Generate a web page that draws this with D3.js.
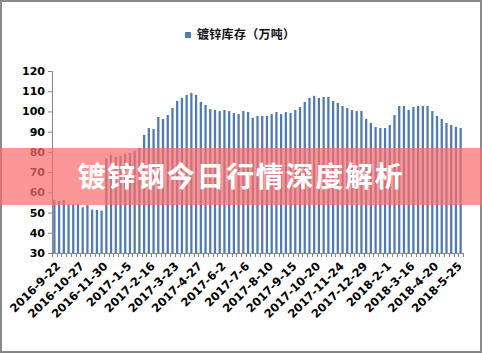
<!DOCTYPE html>
<html>
<head>
<meta charset="utf-8">
<script src="https://cdn.jsdelivr.net/npm/d3@7"></script>
<style>
  body { margin: 0; background: #fff; }
  svg { display: block; }
</style>
</head>
<body>
<div id="chart"></div>
<script>
// 镀锌库存 weekly values (万吨)
var stock = [
  56.2, 55.7, 56.2, 54.0, 54.0, 54.0, 52.6, 53.7, 51.5, 51.3, 51.0,
  76.8, 78.5, 77.5, 78.0, 79.0, 79.6, 80.6, 82.0,
  88.4, 91.8, 91.3, 97.3, 96.3, 98.2, 101.7, 105.2, 106.7, 108.2, 109.2,
  108.2, 104.7, 103.2, 101.2, 100.7, 100.2, 100.7, 100.2, 99.2, 98.7,
  100.2, 99.7, 96.8, 97.8, 97.8, 97.8, 98.7, 99.7, 98.7, 99.7, 99.2,
  100.7, 102.2, 104.7, 106.7, 107.7, 106.7, 107.2, 107.2, 105.2, 104.2,
  102.7, 101.7, 100.7, 100.2, 100.2, 96.3, 94.3, 92.3, 91.8, 91.8, 93.3,
  98.2, 102.7, 102.7, 100.7, 102.2, 102.7, 102.7, 102.7, 100.2, 97.8,
  96.3, 94.3, 93.3, 92.3, 91.8
];
// a date label on every 5th week
var tickLabels = [
  "2016-9-22", "2016-10-27", "2016-11-30", "2017-1-5", "2017-2-16",
  "2017-3-23", "2017-4-27", "2017-6-2", "2017-7-6", "2017-8-10",
  "2017-9-15", "2017-10-20", "2017-11-24", "2017-12-29", "2018-2-1",
  "2018-3-16", "2018-4-20", "2018-5-25"
];
var tickEvery = 5;
var yTicks = [30, 40, 50, 60, 70, 80, 90, 100, 110, 120];
var legendName = "镀锌库存（万吨）";
var bannerText = "镀锌钢今日行情深度解析";

var W = 482, H = 354;
var margin = {top: 71, right: 19, bottom: 101, left: 52};
var width = W - margin.left - margin.right,
    height = H - margin.top - margin.bottom;

var svg = d3.select("#chart").append("svg")
    .attr("width", W).attr("height", H);

// outer frame
svg.append("rect")
    .attr("x", 1).attr("y", 1).attr("width", W - 2).attr("height", H - 3)
    .attr("fill", "#fff").attr("stroke", "#8a8a8a").attr("stroke-width", 2);

var g = svg.append("g")
    .attr("transform", `translate(${margin.left}, ${margin.top})`);

var x = d3.scaleBand()
    .domain(d3.range(stock.length))
    .range([0, width])
    .paddingInner(0.52).paddingOuter(0.26);

var y = d3.scaleLinear().domain([30, 120]).range([height, 0]);

// bars
g.append("g").selectAll("rect")
    .data(stock)
    .enter().append("rect")
    .attr("x", (d, i) => x(i))
    .attr("width", x.bandwidth())
    .attr("y", d => y(d))
    .attr("height", d => height - y(d))
    .attr("fill", "#4f7cae");

// y axis
var yAxis = d3.axisLeft(y).tickValues(yTicks).tickSize(4).tickPadding(3);
var gy = g.append("g").call(yAxis);
gy.select(".domain").attr("stroke", "#868686");
gy.selectAll(".tick line").attr("stroke", "#868686");
gy.selectAll("text")
    .attr("fill", "#000")
    .style("font-family", "'DejaVu Sans', sans-serif")
    .style("font-weight", "bold")
    .style("font-size", "11px");

// x axis: tick marks on every category boundary
var step = x.step();
g.append("line")
    .attr("x1", 0).attr("x2", width)
    .attr("y1", height + 0.5).attr("y2", height + 0.5)
    .attr("stroke", "#868686");
g.append("g").selectAll("line")
    .data(d3.range(stock.length + 1))
    .enter().append("line")
    .attr("x1", k => Math.round(k * step) + 0.5)
    .attr("x2", k => Math.round(k * step) + 0.5)
    .attr("y1", height).attr("y2", height + 4)
    .attr("stroke", "#868686");

g.append("g").selectAll("text")
    .data(tickLabels)
    .enter().append("text")
    .attr("transform", (d, k) => {
        var cx = x(k * tickEvery) + x.bandwidth() / 2;
        return `translate(${cx + 4}, ${height + 11}) rotate(-45)`;
    })
    .attr("text-anchor", "end")
    .attr("dy", "0.35em")
    .style("font-family", "'DejaVu Sans', sans-serif")
    .style("font-weight", "bold")
    .style("font-size", "11.5px")
    .attr("fill", "#000")
    .text(d => d);

// legend
var lg = svg.append("g").attr("transform", "translate(185, 32)");
lg.append("rect").attr("width", 6).attr("height", 6).attr("fill", "#4f7cae");
lg.append("text")
    .attr("x", 12).attr("y", 3).attr("dy", "0.36em")
    .style("font-family", "'Noto Sans CJK SC', sans-serif")
    .style("font-weight", "bold")
    .style("font-size", "12px")
    .style("letter-spacing", "0.3px")
    .attr("fill", "#111")
    .text(legendName);

// pink banner over the chart
svg.append("rect")
    .attr("x", 0).attr("y", 148).attr("width", W).attr("height", 57)
    .attr("fill", "rgb(250,110,110)").attr("fill-opacity", 0.72);
svg.append("text")
    .attr("x", W / 2).attr("y", 177).attr("dy", "0.36em")
    .attr("text-anchor", "middle")
    .style("font-family", "'Noto Sans CJK SC', sans-serif")
    .style("font-weight", "bold")
    .style("font-size", "28px")
    .style("letter-spacing", "1.7px")
    .attr("fill", "#fff")
    .text(bannerText);
</script>
</body>
</html>
